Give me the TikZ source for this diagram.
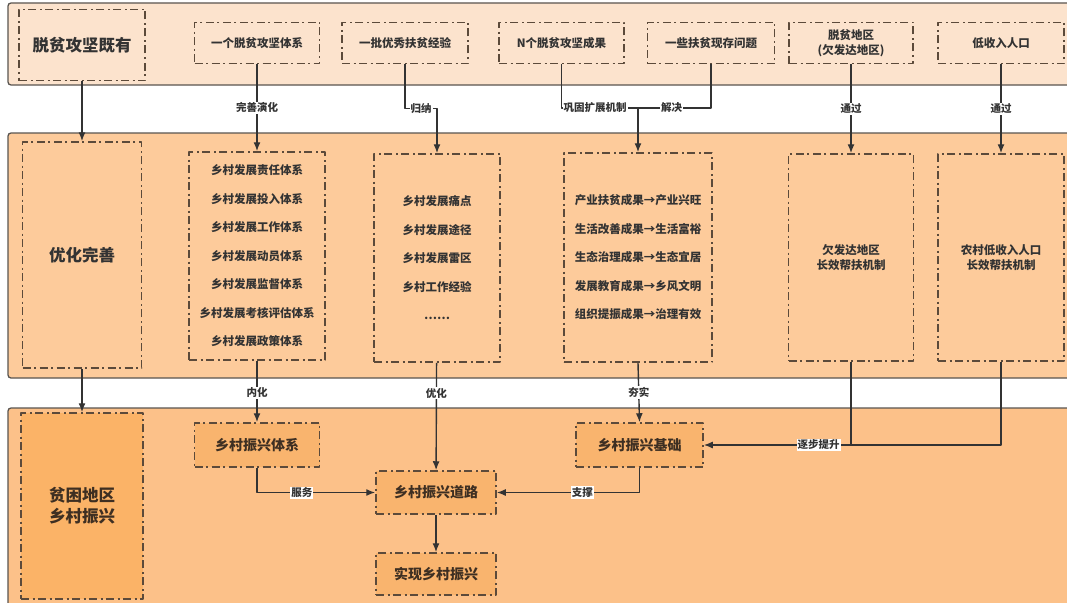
\documentclass[tikz,border=0pt]{standalone}
\usepackage{fontspec}
\setmainfont{Noto Sans CJK SC}
\usetikzlibrary{arrows.meta}
\newcommand{\Edge}{1.5pt}
\newcommand{\Wire}{1.4pt}
\newcommand{\LabelY}{108}
\definecolor{tierone}{HTML}{FCE3CD}
\definecolor{tiertwo}{HTML}{FDCB9B}
\definecolor{tierthree}{HTML}{FCC189}
\definecolor{deep}{HTML}{FBB367}
\definecolor{chip}{HTML}{F9B46E}
\definecolor{rim}{HTML}{5A5550}
\definecolor{dashink}{HTML}{5C4A3A}
\definecolor{ink}{HTML}{333333}
\definecolor{brownink}{HTML}{3E2F22}

\tikzset{
  band/.style={draw=rim, line width=1.3pt, rounded corners=3pt},
  dbox/.style={draw=dashink, line width=\Edge,
    dash pattern=on 8pt off 3.5pt on 2pt off 3.5pt,
    align=center, inner sep=0pt, text=ink,
    font=\bfseries\fontsize{11.5}{15}\selectfont},
  wh/.style 2 args={minimum width=#1pt, minimum height=#2pt},
  bigtext/.style={font=\bfseries\fontsize{16.5}{21}\selectfont},
  listtext/.style={font=\bfseries\fontsize{11.5}{28.5}\selectfont},
  chiptext/.style={fill=chip, text=brownink, font=\bfseries\fontsize{14}{18}\selectfont},
  wire/.style={draw=ink, line width=\Wire},
  arr/.style={wire, -{Latex[length=9pt,width=7pt]}},
  lbl/.style={fill=white, inner sep=1pt, text=ink,
    font=\bfseries\fontsize{10.5}{12}\selectfont},
}

\begin{document}
\begin{tikzpicture}[x=1pt,y=-1pt, line join=round]

  \useasboundingbox (0,0) rectangle (1067,602);
  \clip (0,0) rectangle (1067,602);
  \fill[white] (0,0) rectangle (1067,602);

  % ---- the three bands ----------------------------------------------------
  \filldraw[band, fill=tierone]   (8,3)   rectangle (1085,85);
  \filldraw[band, fill=tiertwo]   (8,133) rectangle (1085,378);
  \filldraw[band, fill=tierthree] (8,408) rectangle (1085,630);

  % ---- band one: what poverty alleviation left behind ---------------------
  \node[dbox, wh={126}{71}, bigtext] (have) at (82,45) {脱贫攻坚既有};
  \node[dbox, wh={125}{41}] (sys)  at (257,43)   {一个脱贫攻坚体系};
  \node[dbox, wh={126}{41}] (exp)  at (405,43)   {一批优秀扶贫经验};
  \node[dbox, wh={125}{41}] (res)  at (561.5,43) {N个脱贫攻坚成果};
  \node[dbox, wh={127}{41}] (prob) at (711,43)   {一些扶贫现存问题};
  \node[dbox, wh={124}{41}] (area) at (851,43)   {脱贫地区\\(欠发达地区)};
  \node[dbox, wh={126}{41}] (low)  at (1001,43)  {低收入人口};

  % ---- band two: optimise and refine --------------------------------------
  \node[dbox, wh={119}{226}, bigtext] (opt) at (82,255) {优化完善};
  \node[dbox, wh={136}{208}, listtext] (lista) at (257,256)
    {乡村发展责任体系\\乡村发展投入体系\\乡村发展工作体系\\乡村发展动员体系\\
     乡村发展监督体系\\乡村发展考核评估体系\\乡村发展政策体系};
  \node[dbox, wh={126}{208}, listtext] (listb) at (437,258)
    {乡村发展痛点\\乡村发展途径\\乡村发展雷区\\乡村工作经验\\……};
  \node[dbox, wh={148}{209}, listtext] (listc) at (638,257.5)
    {产业扶贫成果→产业兴旺\\生活改善成果→生活富裕\\生态治理成果→生态宜居\\
     发展教育成果→乡风文明\\组织提振成果→治理有效};
  \node[dbox, wh={125}{207}] (mecha) at (851,257.5)  {欠发达地区\\长效帮扶机制};
  \node[dbox, wh={126}{207}] (mechb) at (1001,257.5) {农村低收入人口\\长效帮扶机制};

  % ---- band three: rural revitalisation -----------------------------------
  \node[dbox, wh={122}{186}, bigtext, fill=deep, text=brownink] (pov) at (82,506)
    {贫困地区\\乡村振兴};
  \node[dbox, wh={125}{44}, chiptext] (sysr) at (257,445)   {乡村振兴体系};
  \node[dbox, wh={127}{44}, chiptext] (base) at (639.5,445) {乡村振兴基础};
  \node[dbox, wh={120}{43}, chiptext] (road) at (436,492.5) {乡村振兴道路};
  \node[dbox, wh={120}{42}, chiptext] (goal) at (436,574)   {实现乡村振兴};

  % ---- band one to band two -----------------------------------------------
  \draw[arr] (have) -- (opt);
  \draw[arr] (sys) -- node[lbl, pos=0.5]{完善演化} (lista);
  \draw[arr] (exp.south) -- ++(0,44.5) -| node[lbl, pos=0.25]{归纳} (listb.north);
  \coordinate (meet) at (listc.north |- 0,\LabelY);
  \draw[wire] (res.south) |- node[lbl, pos=0.72]{巩固扩展机制} (meet);
  \draw[wire] (prob.south) |- node[lbl, pos=0.77]{解决} (meet);
  \draw[arr] (meet) -- (listc.north);
  \draw[arr] (area) -- node[lbl, pos=0.5]{通过} (mecha);
  \draw[arr] (low) -- node[lbl, pos=0.5]{通过} (mechb);

  % ---- band two to band three ---------------------------------------------
  \draw[arr] (opt) -- (pov);
  \draw[arr] (lista) -- node[lbl, pos=0.52]{内化} (sysr);
  \draw[arr] (listb) -- node[lbl, pos=0.285]{优化} (road);
  \draw[arr] (listc.south) -- node[lbl, pos=0.5]{夯实} (base.north);
  \draw[arr] (mecha.south) |- node[lbl, pos=0.61]{逐步提升} (base.east);
  \draw[wire] (mechb.south) |- (mecha.south |- base.east);

  % ---- inside band three --------------------------------------------------
  \draw[arr] (sysr.south) |- node[lbl, pos=0.69]{服务} (road.west);
  \draw[arr] (base.south) |- node[lbl, pos=0.70]{支撑} (road.east);
  \draw[arr] (road) -- (goal);

\end{tikzpicture}
\end{document}
